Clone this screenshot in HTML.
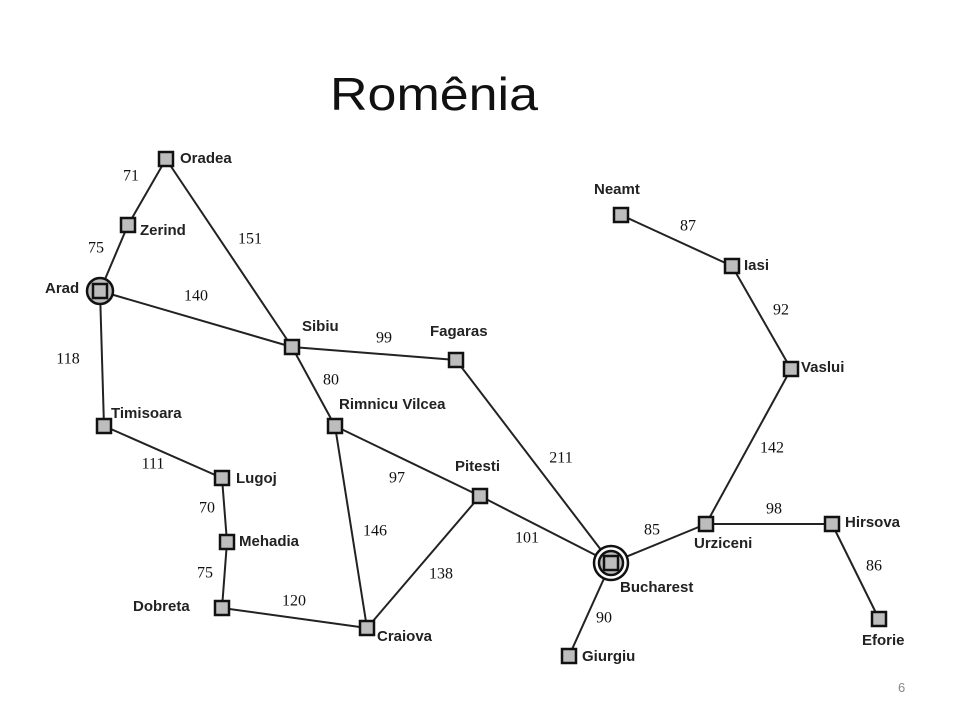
<!DOCTYPE html>
<html><head><meta charset="utf-8"><style>
html,body{margin:0;padding:0;background:#fff;}
svg{display:block;}
.n{fill:#bdbdbd;stroke:#111;stroke-width:2.5;}
.l{font-family:"Liberation Sans",sans-serif;font-size:15px;font-weight:bold;fill:#222;dominant-baseline:middle;}
.e{font-family:"Liberation Serif",serif;font-size:16px;fill:#111;text-anchor:middle;dominant-baseline:middle;}
line{stroke:#222;stroke-width:2;}
</style></head><body>
<svg width="960" height="720" viewBox="0 0 960 720">
<text x="434" y="110" font-family="Liberation Sans, sans-serif" font-size="46" text-anchor="middle" textLength="208" lengthAdjust="spacingAndGlyphs" fill="#111">Romênia</text>
<g>
<line x1="166" y1="159" x2="128" y2="225"/>
<line x1="128" y1="225" x2="100" y2="291"/>
<line x1="166" y1="159" x2="292" y2="347"/>
<line x1="100" y1="291" x2="292" y2="347"/>
<line x1="100" y1="291" x2="104" y2="426"/>
<line x1="104" y1="426" x2="222" y2="478"/>
<line x1="222" y1="478" x2="227" y2="542"/>
<line x1="227" y1="542" x2="222" y2="608"/>
<line x1="222" y1="608" x2="367" y2="628"/>
<line x1="292" y1="347" x2="456" y2="360"/>
<line x1="292" y1="347" x2="335" y2="426"/>
<line x1="335" y1="426" x2="367" y2="628"/>
<line x1="335" y1="426" x2="480" y2="496"/>
<line x1="367" y1="628" x2="480" y2="496"/>
<line x1="480" y1="496" x2="611" y2="563"/>
<line x1="456" y1="360" x2="611" y2="563"/>
<line x1="611" y1="563" x2="569" y2="656"/>
<line x1="611" y1="563" x2="706" y2="524"/>
<line x1="706" y1="524" x2="832" y2="524"/>
<line x1="832" y1="524" x2="879" y2="619"/>
<line x1="706" y1="524" x2="791" y2="369"/>
<line x1="791" y1="369" x2="732" y2="266"/>
<line x1="732" y1="266" x2="621" y2="215"/>
</g>
<circle cx="100" cy="291" r="13" fill="#bdbdbd" stroke="#111" stroke-width="2.5"/>
<circle cx="611" cy="563" r="17" fill="#fff" stroke="#111" stroke-width="2.5"/>
<circle cx="611" cy="563" r="12" fill="#bdbdbd" stroke="#111" stroke-width="2.5"/>
<g>
<rect class="n" x="159" y="152" width="14" height="14"/>
<rect class="n" x="121" y="218" width="14" height="14"/>
<rect class="n" x="93" y="284" width="14" height="14"/>
<rect class="n" x="97" y="419" width="14" height="14"/>
<rect class="n" x="215" y="471" width="14" height="14"/>
<rect class="n" x="220" y="535" width="14" height="14"/>
<rect class="n" x="215" y="601" width="14" height="14"/>
<rect class="n" x="360" y="621" width="14" height="14"/>
<rect class="n" x="328" y="419" width="14" height="14"/>
<rect class="n" x="285" y="340" width="14" height="14"/>
<rect class="n" x="449" y="353" width="14" height="14"/>
<rect class="n" x="473" y="489" width="14" height="14"/>
<rect class="n" x="604" y="556" width="14" height="14"/>
<rect class="n" x="562" y="649" width="14" height="14"/>
<rect class="n" x="699" y="517" width="14" height="14"/>
<rect class="n" x="825" y="517" width="14" height="14"/>
<rect class="n" x="872" y="612" width="14" height="14"/>
<rect class="n" x="784" y="362" width="14" height="14"/>
<rect class="n" x="725" y="259" width="14" height="14"/>
<rect class="n" x="614" y="208" width="14" height="14"/>
</g>
<g>
<text class="l" x="180" y="159">Oradea</text>
<text class="l" x="140" y="231">Zerind</text>
<text class="l" x="45" y="289">Arad</text>
<text class="l" x="111" y="414">Timisoara</text>
<text class="l" x="236" y="479">Lugoj</text>
<text class="l" x="239" y="542">Mehadia</text>
<text class="l" x="133" y="607">Dobreta</text>
<text class="l" x="377" y="637">Craiova</text>
<text class="l" x="339" y="405">Rimnicu Vilcea</text>
<text class="l" x="302" y="327">Sibiu</text>
<text class="l" x="430" y="332">Fagaras</text>
<text class="l" x="455" y="467">Pitesti</text>
<text class="l" x="620" y="588">Bucharest</text>
<text class="l" x="582" y="657">Giurgiu</text>
<text class="l" x="694" y="544">Urziceni</text>
<text class="l" x="845" y="523">Hirsova</text>
<text class="l" x="862" y="641">Eforie</text>
<text class="l" x="801" y="368">Vaslui</text>
<text class="l" x="744" y="266">Iasi</text>
<text class="l" x="594" y="190">Neamt</text>
</g>
<g>
<text class="e" x="131" y="177">71</text>
<text class="e" x="96" y="249">75</text>
<text class="e" x="250" y="240">151</text>
<text class="e" x="196" y="297">140</text>
<text class="e" x="68" y="360">118</text>
<text class="e" x="384" y="339">99</text>
<text class="e" x="331" y="381">80</text>
<text class="e" x="153" y="465">111</text>
<text class="e" x="207" y="509">70</text>
<text class="e" x="205" y="574">75</text>
<text class="e" x="294" y="602">120</text>
<text class="e" x="375" y="532">146</text>
<text class="e" x="397" y="479">97</text>
<text class="e" x="441" y="575">138</text>
<text class="e" x="527" y="539">101</text>
<text class="e" x="561" y="459">211</text>
<text class="e" x="652" y="531">85</text>
<text class="e" x="604" y="619">90</text>
<text class="e" x="774" y="510">98</text>
<text class="e" x="874" y="567">86</text>
<text class="e" x="772" y="449">142</text>
<text class="e" x="781" y="311">92</text>
<text class="e" x="688" y="227">87</text>
</g>
<text x="898" y="692" font-family="Liberation Sans, sans-serif" font-size="13" fill="#888">6</text>
</svg>
</body></html>
